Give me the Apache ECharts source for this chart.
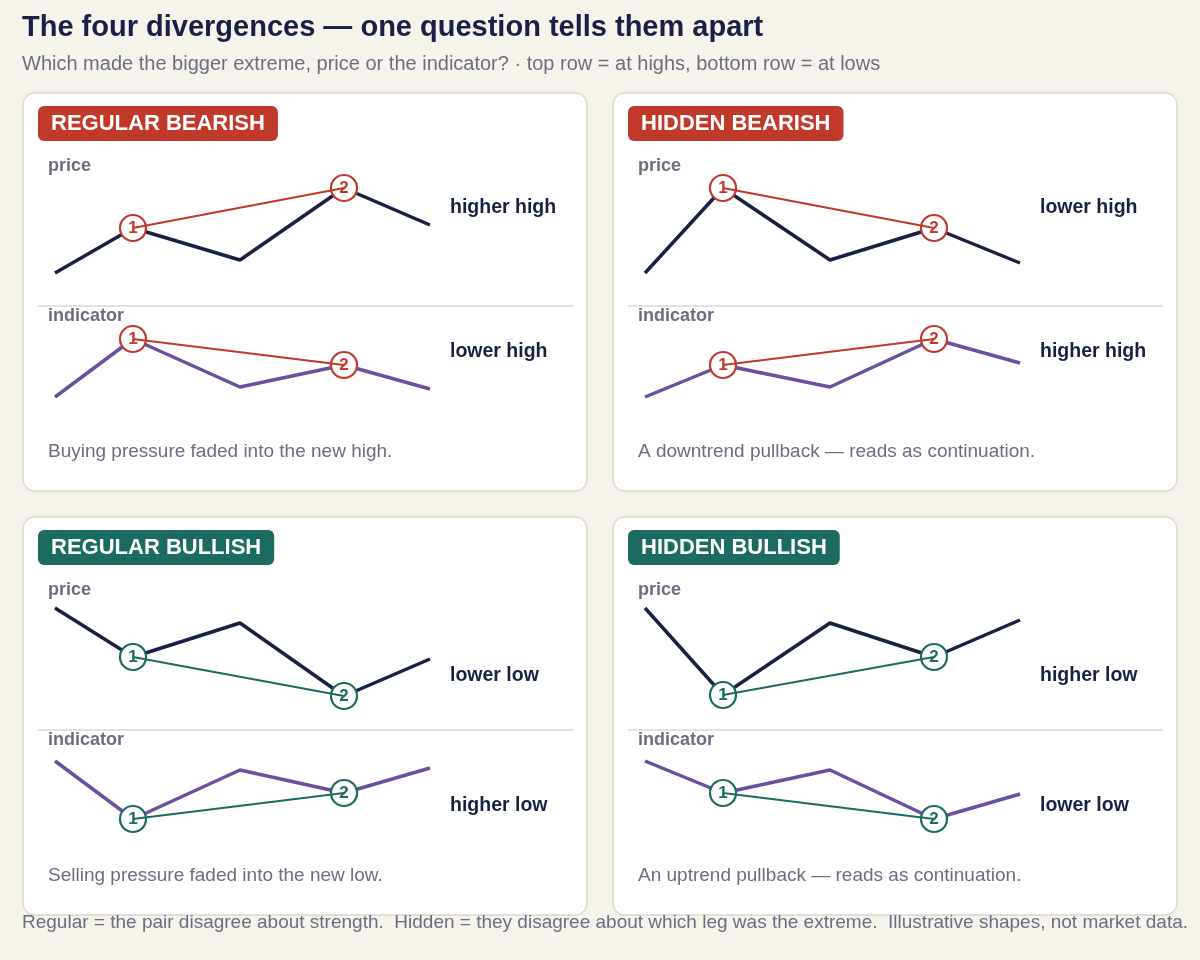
<!DOCTYPE html><html><head><meta charset="utf-8"><script src="https://cdn.jsdelivr.net/npm/echarts@6/dist/echarts.min.js"></script>
<style>body{margin:0;background:#f6f3ec}#c{width:1200px;height:960px}</style></head><body><div id="c"></div><script>
const xs=[0,78,185,289,375];
const titles=['REGULAR BEARISH','HIDDEN BEARISH','REGULAR BULLISH','HIDDEN BULLISH'];
const priceVals=[[27,72,40,112,75],[27,112,40,72,37],[116,67,101,28,65],[116,29,101,67,104]];
const indVals=[[23,81,33,55,31],[23,55,33,81,57],[83,25,74,51,76],[83,51,74,25,50]];
const priceNotes=['higher high','lower high','lower low','higher low'];
const indNotes=['lower high','higher high','higher low','lower low'];
const captions=['Buying pressure faded into the new high.','A downtrend pullback — reads as continuation.','Selling pressure faded into the new low.','An uptrend pullback — reads as continuation.'];
const pivots=[1,3];
const RED='#c0392b',GREEN='#1b6b60',NAVY='#1a2045',PURPLE='#6b4fa0',GRAY='#6b6e80';
const grids=[],xA=[],yA=[],series=[],graphic=[];
graphic.push({type:'text',left:22,top:13,style:{text:'The four divergences — one question tells them apart',font:'bold 29px Liberation Sans, Arial',fill:NAVY}});
graphic.push({type:'text',left:22,top:54,style:{text:'Which made the bigger extreme, price or the indicator? · top row = at highs, bottom row = at lows',font:'20px Liberation Sans, Arial',fill:GRAY}});
graphic.push({type:'text',left:22,top:913,style:{text:'Regular = the pair disagree about strength.  Hidden = they disagree about which leg was the extreme.  Illustrative shapes, not market data.',font:'19px Liberation Sans, Arial',fill:GRAY}});
for(let p=0;p<4;p++){
 const row=Math.floor(p/2), ox=(p%2)*590, oy=row*424, col=p<2?RED:GREEN;
 graphic.push({type:'rect',shape:{x:23+ox,y:93+oy,width:564,height:398,r:12},style:{fill:'#fff',stroke:'#dcd8d0',lineWidth:1.5},z:-10});
 graphic.push({type:'text',x:51+ox,y:125+oy,style:{text:titles[p],font:'bold 22px Liberation Sans, Arial',fill:'#fff',textVerticalAlign:'middle',backgroundColor:col,padding:[7,13,6,13],borderRadius:6},z:-5,left:38+ox,top:106+oy});
 graphic.push({type:'text',x:48+ox,y:157+oy,style:{text:'price',font:'bold 18px Liberation Sans, Arial',fill:GRAY}});
 graphic.push({type:'text',x:48+ox,y:307+oy,style:{text:'indicator',font:'bold 18px Liberation Sans, Arial',fill:GRAY}});
 graphic.push({type:'line',shape:{x1:38+ox,y1:306+oy,x2:573+ox,y2:306+oy},style:{stroke:'#d8d8d8',lineWidth:1.5},z:-5});
 const ny=row?[242,372]:[198,342];
 graphic.push({type:'text',x:450+ox,y:ny[0]+oy,style:{text:priceNotes[p],font:'bold 19.5px Liberation Sans, Arial',fill:NAVY}});
 graphic.push({type:'text',x:450+ox,y:ny[1]+oy,style:{text:indNotes[p],font:'bold 19.5px Liberation Sans, Arial',fill:NAVY}});
 graphic.push({type:'text',x:48+ox,y:442+oy,style:{text:captions[p],font:'19px Liberation Sans, Arial',fill:GRAY}});
 [[priceVals[p],170,NAVY],[indVals[p],290,PURPLE]].forEach(([vals,top,lc])=>{
  const gi=grids.length;
  grids.push({left:55+ox,top:top+oy,width:375,height:130});
  xA.push({type:'value',gridIndex:gi,min:0,max:375,show:false});
  yA.push({type:'value',gridIndex:gi,min:0,max:130,show:false});
  const d=xs.map((x,i)=>[x,vals[i]]);
  series.push({type:'line',xAxisIndex:gi,yAxisIndex:gi,data:d,symbol:'none',lineStyle:{color:lc,width:3.5},z:2,silent:true});
  series.push({type:'scatter',xAxisIndex:gi,yAxisIndex:gi,data:pivots.map((i,k)=>({value:d[i],label:{formatter:String(k+1)}})),symbol:'circle',symbolSize:26,
   itemStyle:{color:'#fff',borderColor:col,borderWidth:2.2,opacity:1},z:4,
   label:{show:true,position:'inside',color:col,fontWeight:'bold',fontSize:17,fontFamily:'Liberation Sans'}});
  series.push({type:'line',xAxisIndex:gi,yAxisIndex:gi,data:pivots.map(i=>d[i]),symbol:'none',lineStyle:{color:col,width:2.2},z:5,silent:true});
 });
}
const ch=echarts.init(document.getElementById('c'));
ch.setOption({animation:false,backgroundColor:'#f6f3ec',grid:grids,xAxis:xA,yAxis:yA,series,graphic});
</script></body></html>
